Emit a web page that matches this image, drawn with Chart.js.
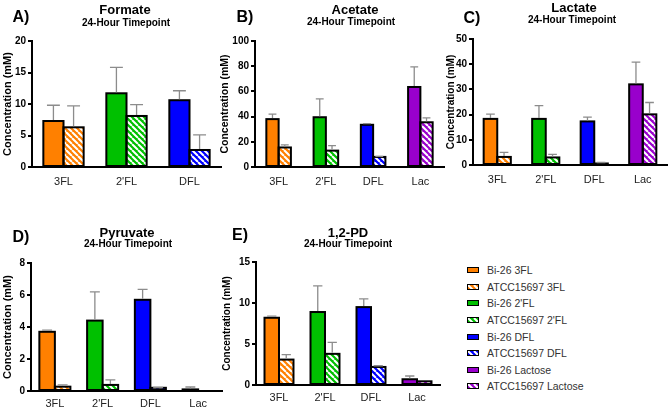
<!DOCTYPE html>
<html>
<head>
<meta charset="utf-8">
<script src="https://cdn.jsdelivr.net/npm/chart.js@4"></script>
<style>
  body { margin: 0; background: #fff; }
  #wrap { position: relative; width: 670px; height: 410px; font-family: 'Liberation Sans', Arial, sans-serif; color: #000; }
  #wrap canvas { position: absolute; }
  .txt { position: absolute; font-weight: bold; white-space: nowrap; transform: translate(-50%, -50%); }
  .letter { font-size: 16px; }
  .ttl { font-size: 13px; }
  .sub { font-size: 10px; }
  .leg { position: absolute; left: 467px; font-size: 10.5px; color: #333; }
  .leg div { height: 16.57px; display: flex; align-items: center; }
  .leg span.sw { width: 10px; height: 4px; border: 1.5px solid #000; margin-right: 8px; background-size: 6px 6px; }
</style>
</head>
<body>
<div id="wrap">
  <canvas id="cA"></canvas>
  <canvas id="cB"></canvas>
  <canvas id="cC"></canvas>
  <canvas id="cD"></canvas>
  <canvas id="cE"></canvas>
  <div class="leg" id="legend" style="top:262px"></div>
</div>
<script>
// categories
const labels3 = ['3FL', "2'FL", 'DFL'];
const labels4 = ['3FL', "2'FL", 'DFL', 'Lac'];
const catColors = ['#ff8000', '#00c000', '#0000ff', '#9900cc'];

// means and SD (mM), Bi-26 vs ATCC15697
const formateBi = [7.3, 11.7, 10.6];
const formateBiSd = [2.5, 4.1, 1.5];
const formateAtcc = [6.3, 8.1, 2.7];
const formateAtccSd = [3.4, 1.8, 2.4];

const acetateBi = [38, 39.5, 33.5, 63.5];
const acetateBiSd = [4, 14.5, 1, 16];
const acetateAtcc = [15.5, 13, 8, 35.5];
const acetateAtccSd = [2, 4, 0.5, 3.5];

const lactateBi = [18.3, 18.3, 17.3, 32];
const lactateBiSd = [1.9, 5.3, 1.7, 8.8];
const lactateAtcc = [3.2, 3, 0.6, 20.1];
const lactateAtccSd = [1.8, 1.2, 0.4, 4.7];

const pyruvateBi = [3.7, 4.4, 5.7, 0.1];
const pyruvateBiSd = [0.1, 1.8, 0.65, 0.15];
const pyruvateAtcc = [0.27, 0.38, 0.2, 0];
const pyruvateAtccSd = [0.11, 0.32, 0.02, 0];

const pdBi = [8.2, 8.9, 9.5, 0.7];
const pdBiSd = [0.2, 3.2, 1.0, 0.4];
const pdAtcc = [3.1, 3.8, 2.2, 0.45];
const pdAtccSd = [0.6, 1.4, 0.15, 0];

const legendLabels = ['Bi-26 3FL', 'ATCC15697 3FL', "Bi-26 2'FL", "ATCC15697 2'FL",
  'Bi-26 DFL', 'ATCC15697 DFL', 'Bi-26 Lactose', 'ATCC15697 Lactose'];

const FONT = "'Liberation Sans', Arial, sans-serif";

// white diagonal stripes over the colour
function hatchTile(color) {
  const c = document.createElement('canvas');
  c.width = c.height = 6;
  const g = c.getContext('2d');
  g.fillStyle = color;
  g.fillRect(0, 0, 6, 6);
  g.strokeStyle = '#fff';
  g.lineWidth = 2;
  g.beginPath();
  for (const k of [-6, 0, 6]) { g.moveTo(k, 0); g.lineTo(k + 6, 6); }
  g.stroke();
  return c;
}
const patCtx = document.createElement('canvas').getContext('2d');
const hatchTiles = catColors.map(hatchTile);
const hatchPatterns = hatchTiles.map(t => patCtx.createPattern(t, 'repeat'));

// black outline round every bar, then grey SD whiskers (upper only)
const barDecor = {
  id: 'barDecor',
  afterDatasetsDraw(chart) {
    const ctx = chart.ctx, y = chart.scales.y;
    ctx.save();
    chart.data.datasets.forEach((ds, i) => {
      chart.getDatasetMeta(i).data.forEach(bar => {
        const h = bar.base - bar.y;
        if (h < 0.5) return;
        ctx.strokeStyle = '#000';
        ctx.lineWidth = 2;
        ctx.strokeRect(bar.x - bar.width / 2, bar.y, bar.width, h);
      });
    });
    ctx.strokeStyle = '#8c8c8c';
    ctx.lineWidth = 1.3;
    chart.data.datasets.forEach((ds, i) => {
      chart.getDatasetMeta(i).data.forEach((bar, j) => {
        const sd = ds.sd[j];
        if (!sd) return;
        const top = y.getPixelForValue(ds.data[j] + sd);
        const half = bar.width * 0.32;
        ctx.beginPath();
        ctx.moveTo(bar.x, bar.y - 1);
        ctx.lineTo(bar.x, top);
        ctx.moveTo(bar.x - half, top);
        ctx.lineTo(bar.x + half, top);
        ctx.stroke();
      });
    });
    ctx.restore();
  }
};

function addText(cls, text, x, y) {
  const d = document.createElement('div');
  d.className = 'txt ' + cls;
  d.textContent = text;
  d.style.left = x + 'px';
  d.style.top = y + 'px';
  document.getElementById('wrap').appendChild(d);
}

function panel(id, box, labels, bi, biSd, atcc, atccSd, yMax, yStep, text) {
  const cv = document.getElementById(id);
  cv.width = box.w; cv.height = box.h;
  cv.style.left = box.x + 'px'; cv.style.top = box.y + 'px';
  const n = labels.length;
  new Chart(cv, {
    type: 'bar',
    data: {
      labels: labels,
      datasets: [
        { label: 'Bi-26', data: bi, sd: biSd, backgroundColor: catColors.slice(0, n), borderWidth: 0 },
        { label: 'ATCC15697', data: atcc, sd: atccSd, backgroundColor: hatchPatterns.slice(0, n), borderWidth: 0 }
      ]
    },
    options: {
      responsive: false,
      animation: false,
      events: [],
      layout: { padding: { top: box.padTop, right: box.padRight, left: 0, bottom: 0 } },
      datasets: { bar: { categoryPercentage: box.cat, barPercentage: 1 } },
      plugins: { legend: { display: false }, tooltip: { enabled: false } },
      scales: {
        x: {
          afterFit: s => { s.height = box.xH; },
          grid: { display: false, drawTicks: false },
          border: { color: '#000', width: 2 },
          ticks: { color: '#222', padding: box.xPad, font: { family: FONT, size: 11 } }
        },
        y: {
          min: 0, max: yMax,
          afterFit: s => { s.width = box.yW; },
          grid: { drawOnChartArea: false, drawTicks: true, tickLength: 4, color: '#000', lineWidth: 2 },
          border: { color: '#000', width: 2 },
          ticks: { stepSize: yStep, color: '#000', padding: 2, font: { family: FONT, size: 10, weight: 'bold' } },
          title: { display: true, text: 'Concentration (mM)', color: '#000', padding: { top: 1, bottom: 0 },
                   font: { family: FONT, size: box.ySize, weight: 'bold' } }
        }
      }
    },
    plugins: [barDecor]
  });
  addText('letter', text[0], text[1], text[2]);
  addText('ttl', text[3], text[4], text[5]);
  addText('sub', '24-Hour Timepoint', text[6], text[7]);
}

panel('cA', { x: 0, y: 0, w: 223, h: 195, padTop: 41, padRight: 2, yW: 32, xH: 28, xPad: 8, cat: 0.64, ySize: 11 },
  labels3, formateBi, formateBiSd, formateAtcc, formateAtccSd, 20, 5,
  ['A)', 21, 17, 'Formate', 125, 9, 126, 22]);
panel('cB', { x: 218, y: 0, w: 228, h: 195, padTop: 41, padRight: 2, yW: 37, xH: 28, xPad: 8, cat: 0.52, ySize: 10.5 },
  labels4, acetateBi, acetateBiSd, acetateAtcc, acetateAtccSd, 100, 20,
  ['B)', 245, 17, 'Acetate', 355, 9, 351, 21]);
panel('cC', { x: 444, y: 0, w: 226, h: 193, padTop: 39, padRight: 3, yW: 29, xH: 28, xPad: 8, cat: 0.56, ySize: 10 },
  labels4, lactateBi, lactateBiSd, lactateAtcc, lactateAtccSd, 50, 10,
  ['C)', 472, 18, 'Lactate', 574, 7, 572, 19]);
panel('cD', { x: 0, y: 222, w: 224, h: 188, padTop: 41, padRight: 2, yW: 31, xH: 19, xPad: 6, cat: 0.65, ySize: 11 },
  labels4, pyruvateBi, pyruvateBiSd, pyruvateAtcc, pyruvateAtccSd, 8, 2,
  ['D)', 21, 237, 'Pyruvate', 127, 232, 128, 243]);
panel('cE', { x: 220, y: 222, w: 222, h: 188, padTop: 40, padRight: 2, yW: 36, xH: 25, xPad: 6, cat: 0.63, ySize: 10 },
  labels4, pdBi, pdBiSd, pdAtcc, pdAtccSd, 15, 5,
  ['E)', 240, 235, '1,2-PD', 348, 232, 348, 243]);

// legend
const leg = document.getElementById('legend');
legendLabels.forEach((t, i) => {
  const row = document.createElement('div');
  const sw = document.createElement('span');
  sw.className = 'sw';
  const k = Math.floor(i / 2);
  if (i % 2 === 0) sw.style.background = catColors[k];
  else sw.style.backgroundImage = 'url(' + hatchTiles[k].toDataURL() + ')';
  row.appendChild(sw);
  row.appendChild(document.createTextNode(t));
  leg.appendChild(row);
});
</script>
</body>
</html>
